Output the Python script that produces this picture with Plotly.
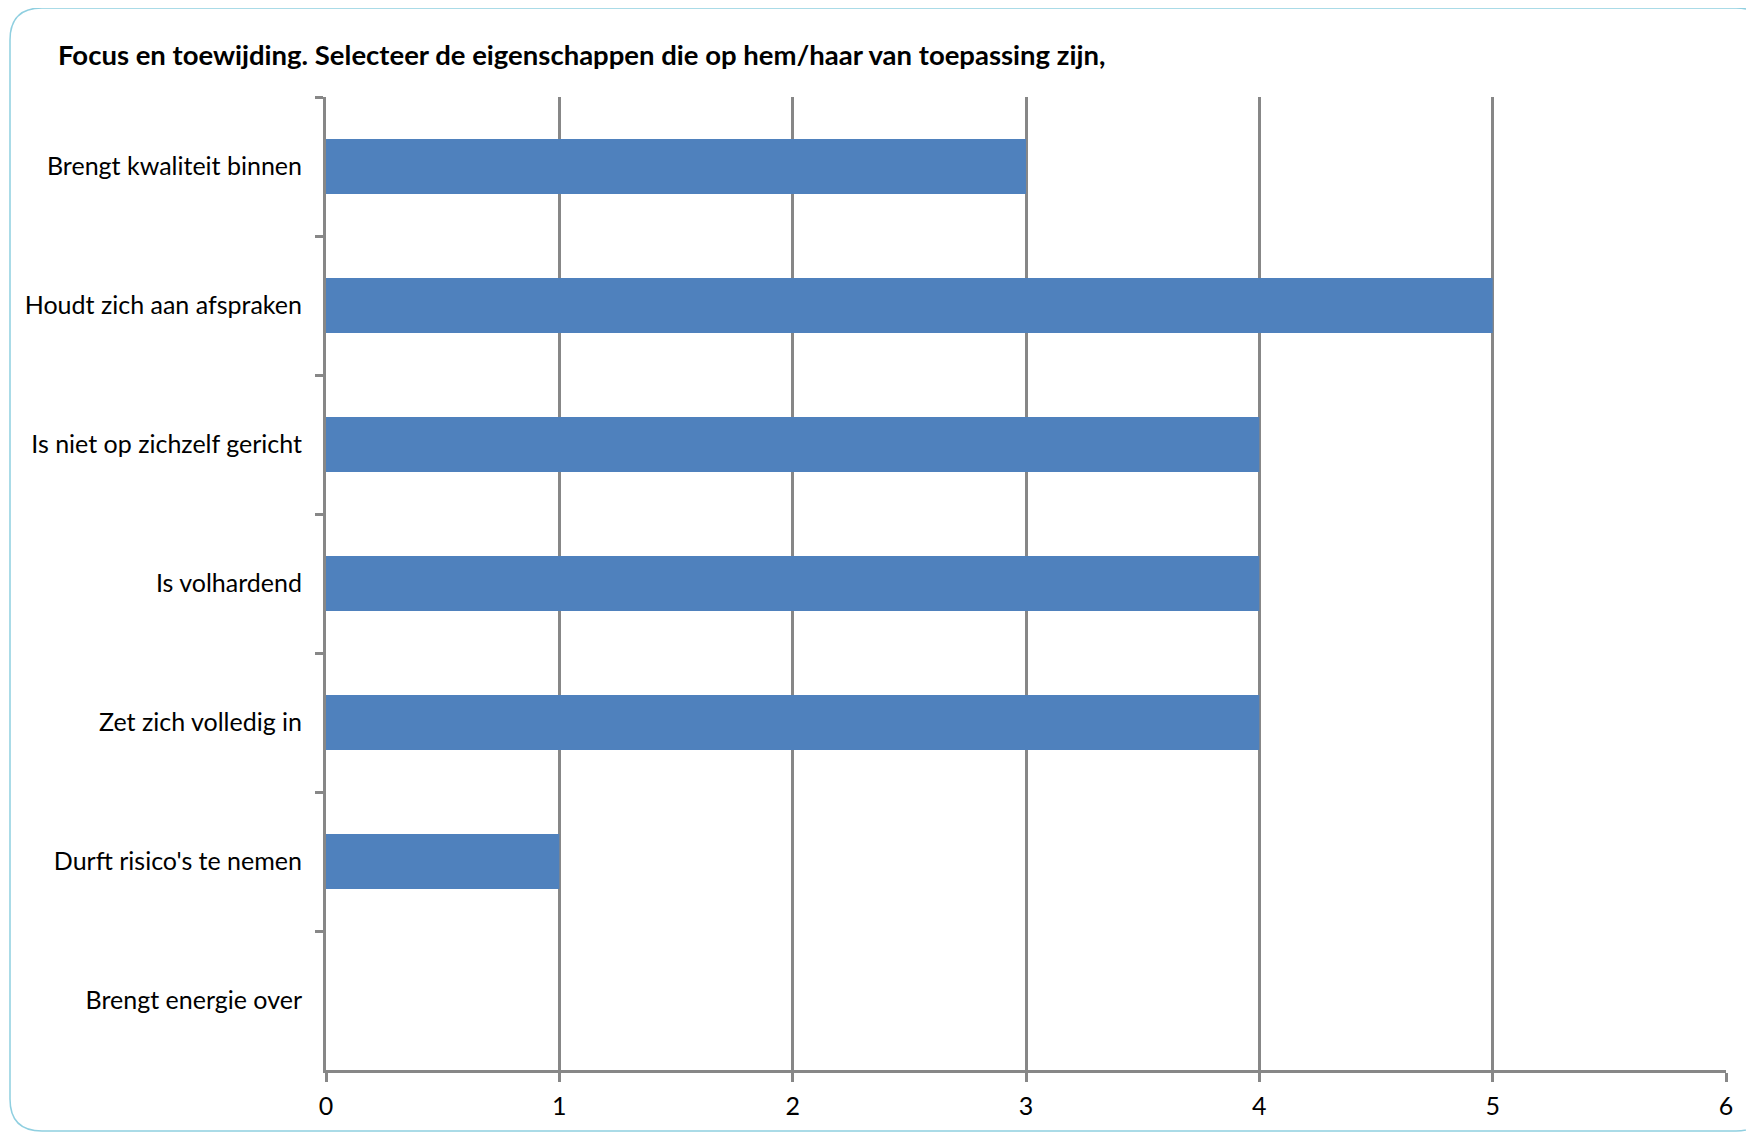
import plotly.graph_objects as go

categories = [
    'Brengt kwaliteit binnen',
    'Houdt zich aan afspraken',
    'Is niet op zichzelf gericht',
    'Is volhardend',
    'Zet zich volledig in',
    "Durft risico's te nemen",
    'Brengt energie over',
]
counts = [3, 5, 4, 4, 4, 1, 0]
x_ticks = [0, 1, 2, 3, 4, 5, 6]

# the page body adds an 8px offset, so figure coords are page coords - 8
OFF = 8
W, H = 1754, 1133
L, T = 326 - OFF, 97 - OFF
R = W - (1726 - OFF)
B = H - (1070 - OFF)
pw, ph = W - L - R, H - T - B

fig = go.Figure()
fig.add_trace(go.Bar(
    x=counts,
    y=categories,
    orientation='h',
    marker=dict(color='#4f81bd', line=dict(width=0)),
    hoverinfo='x+y',
))

# rounded frame around the whole chart, in paper coords
def px_x(v):
    return (v - OFF - L) / pw

def px_y(v):
    return (H - B - (v - OFF)) / ph

x0, x1, y0, y1, r = 10, 1768, 8, 1131, 32
path = (
    f'M {px_x(x0 + r)},{px_y(y0)} L {px_x(x1 - r)},{px_y(y0)} '
    f'Q {px_x(x1)},{px_y(y0)} {px_x(x1)},{px_y(y0 + r)} '
    f'L {px_x(x1)},{px_y(y1 - r)} '
    f'Q {px_x(x1)},{px_y(y1)} {px_x(x1 - r)},{px_y(y1)} '
    f'L {px_x(x0 + r)},{px_y(y1)} '
    f'Q {px_x(x0)},{px_y(y1)} {px_x(x0)},{px_y(y1 - r)} '
    f'L {px_x(x0)},{px_y(y0 + r)} '
    f'Q {px_x(x0)},{px_y(y0)} {px_x(x0 + r)},{px_y(y0)} Z'
)

fig.update_layout(
    width=W,
    height=H,
    margin=dict(l=L, r=R, t=T, b=B),
    paper_bgcolor='white',
    plot_bgcolor='white',
    font=dict(family='Lato, Carlito, sans-serif', size=25, color='black'),
    showlegend=False,
    bargap=0.605,
    title=dict(
        text='<b>Focus en toewijding. Selecteer de eigenschappen die op hem/haar van toepassing zijn,</b>',
        x=(58 - OFF) / W,
        xref='container',
        xanchor='left',
        y=1 - (55 - OFF) / H,
        yref='container',
        yanchor='middle',
        font=dict(size=27.5, color='black'),
    ),
    xaxis=dict(
        range=[0, 6],
        tickvals=x_ticks,
        showgrid=True,
        gridcolor='#878787',
        gridwidth=2.5,
        zeroline=False,
        showline=True,
        linecolor='#878787',
        linewidth=3,
        ticks='outside',
        ticklen=9,
        tickwidth=2.5,
        tickcolor='#878787',
        ticklabelstandoff=3,
        fixedrange=True,
    ),
    yaxis=dict(
        autorange='reversed',
        showgrid=False,
        zeroline=False,
        showline=True,
        linecolor='#878787',
        linewidth=3,
        ticks='outside',
        tickson='boundaries',
        ticklen=8,
        tickwidth=2.5,
        tickcolor='#878787',
        ticklabelstandoff=16,
        fixedrange=True,
    ),
    shapes=[dict(
        type='path',
        path=path,
        xref='paper',
        yref='paper',
        line=dict(color='#8fcfe0', width=1.5),
        fillcolor='rgba(0,0,0,0)',
        layer='below',
    )],
)

fig.write_html('out.html')
